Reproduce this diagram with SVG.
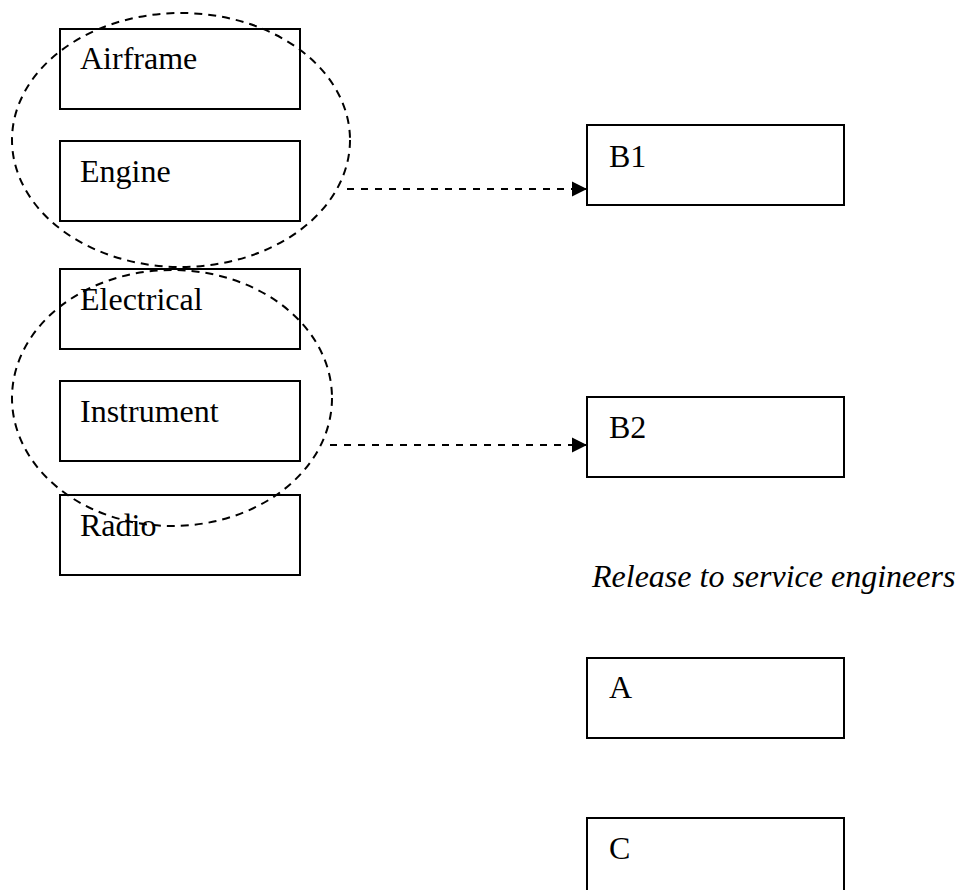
<svg xmlns="http://www.w3.org/2000/svg" width="957" height="890" viewBox="0 0 957 890">
  <style>
    .box { fill: #fff; stroke: #000; stroke-width: 2; }
    .lbl { font-family: "Liberation Serif", "Times New Roman", serif; font-size: 32px; fill: #000; }
    .it { font-style: italic; }
    .grp { fill: none; stroke: #000; stroke-width: 2; stroke-dasharray: 8 6; }
    .link { fill: none; stroke: #000; stroke-width: 2; stroke-dasharray: 7 7; }
  </style>
  <defs>
    <marker id="arrow" markerUnits="userSpaceOnUse" markerWidth="16" markerHeight="16" refX="15" refY="8" orient="auto">
      <path d="M0,0.5 L15,8 L0,15.5 Z" fill="#000"/>
    </marker>
  </defs>
  <rect width="957" height="890" fill="#fff"/>

  <!-- licence categories, left column -->
  <g id="airframe"><rect class="box" x="60" y="29" width="240" height="80"/><text class="lbl" x="80" y="69">Airframe</text></g>
  <g id="engine"><rect class="box" x="60" y="141" width="240" height="80"/><text class="lbl" x="80" y="182">Engine</text></g>
  <g id="electrical"><rect class="box" x="60" y="269" width="240" height="80"/><text class="lbl" x="80" y="310">Electrical</text></g>
  <g id="instrument"><rect class="box" x="60" y="381" width="240" height="80"/><text class="lbl" x="80" y="422">Instrument</text></g>
  <g id="radio"><rect class="box" x="60" y="495" width="240" height="80"/><text class="lbl" x="80" y="536">Radio</text></g>

  <!-- groupings -->
  <g id="groups">
    <ellipse class="grp" cx="181" cy="140" rx="169" ry="127"/>
    <ellipse class="grp" cx="172" cy="398" rx="160" ry="128"/>
  </g>

  <!-- licence types, right column -->
  <g id="b1"><rect class="box" x="587" y="125" width="257" height="80"/><text class="lbl" x="609" y="167">B1</text></g>
  <g id="b2"><rect class="box" x="587" y="397" width="257" height="80"/><text class="lbl" x="609" y="438">B2</text></g>
  <g id="caption"><text class="lbl it" x="592" y="587">Release to service engineers</text></g>
  <g id="a"><rect class="box" x="587" y="658" width="257" height="80"/><text class="lbl" x="609" y="698">A</text></g>
  <g id="c"><rect class="box" x="587" y="818" width="257" height="80"/><text class="lbl" x="609" y="859">C</text></g>

  <!-- connectors -->
  <g id="connectors">
    <line class="link" x1="347" y1="189" x2="587" y2="189" marker-end="url(#arrow)"/>
    <line class="link" x1="330" y1="445" x2="587" y2="445" marker-end="url(#arrow)"/>
  </g>
</svg>
